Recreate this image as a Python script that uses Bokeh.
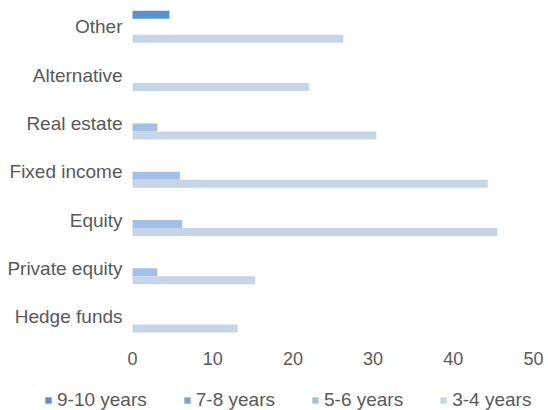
from bokeh.plotting import figure
from bokeh.models import Legend, LegendItem, Range1d, ColumnDataSource
from bokeh.core.properties import value
from bokeh.embed import file_html
from bokeh.resources import INLINE
from bokeh.transform import dodge

categories = ["Hedge funds", "Private equity", "Equity", "Fixed income",
              "Real estate", "Alternative", "Other"]
series_names = ["9-10 years", "7-8 years", "5-6 years", "3-4 years"]
y9_10 = [0, 0, 0, 0, 0, 0, 4.6]
y7_8 = [0, 0, 0, 0, 0, 0, 0]
y5_6 = [0, 3.1, 6.2, 5.9, 3.1, 0, 0]
y3_4 = [13.1, 15.3, 45.5, 44.3, 30.4, 22.0, 26.3]
x_ticks = [0, 10, 20, 30, 40, 50]

colors = ["#5893CE", "#7BA6DA", "#A5C0E4", "#C5D5EA"]

# layout constants (screen geometry)
fw, fh = 548, 410
px_x, px_y = 8.02, 48.3          # pixels per data unit
x0 = -16.46                      # data x at the left edge
ymax = 6.545                     # data y at the top edge
bh = 0.1656
offsets = [1.5 * bh, 0.5 * bh, -0.5 * bh, -1.5 * bh]
tick_label_y = ymax - 357.5 / px_y

p = figure(frame_width=fw, frame_height=fh, output_backend="svg",
           toolbar_location=None, y_axis_location=None, x_axis_location=None,
           x_range=Range1d(x0, x0 + fw / px_x),
           y_range=Range1d(ymax - fh / px_y, ymax),
           min_border_left=0, min_border_right=0, min_border_top=0,
           min_border_bottom=0)

src = ColumnDataSource(dict(y=list(range(len(categories))), cat=categories,
                            zero=[0] * len(categories),
                            s0=y9_10, s1=y7_8, s2=y5_6, s3=y3_4))

items = []
for i, name in enumerate(series_names):
    r = p.hbar(y=dodge("y", offsets[i], range=p.y_range), right="s%d" % i, left=0,
               height=bh, source=src, fill_color=colors[i], line_color=None)
    items.append(LegendItem(label=name, renderers=[r]))

font = "Liberation Sans"
txt = "#595959"

# category axis labels
p.text(x="zero", y="y", text="cat", source=src, x_offset=-10,
       text_align="right", text_baseline="middle", text_font=value(font),
       text_font_size="19px", text_color=txt)

# value axis tick labels
tick_src = ColumnDataSource(dict(x=x_ticks, y=[tick_label_y] * len(x_ticks),
                                 t=[str(v) for v in x_ticks]))
p.text(x="x", y="y", text="t", source=tick_src, text_align="center",
       text_baseline="middle", text_font=value(font), text_font_size="18px",
       text_color=txt)

p.xgrid.grid_line_color = None
p.ygrid.grid_line_color = None
p.outline_line_color = None

legend = Legend(items=items, orientation="horizontal", location=(44, -1),
                glyph_width=8, glyph_height=8, label_standoff=5, spacing=36,
                padding=0, margin=0, border_line_color=None,
                background_fill_alpha=0, label_text_font=font,
                label_text_font_size="19px", label_text_color=txt,
                label_height=18)
p.add_layout(legend, "center")

open("out.html", "w").write(file_html(p, INLINE))
